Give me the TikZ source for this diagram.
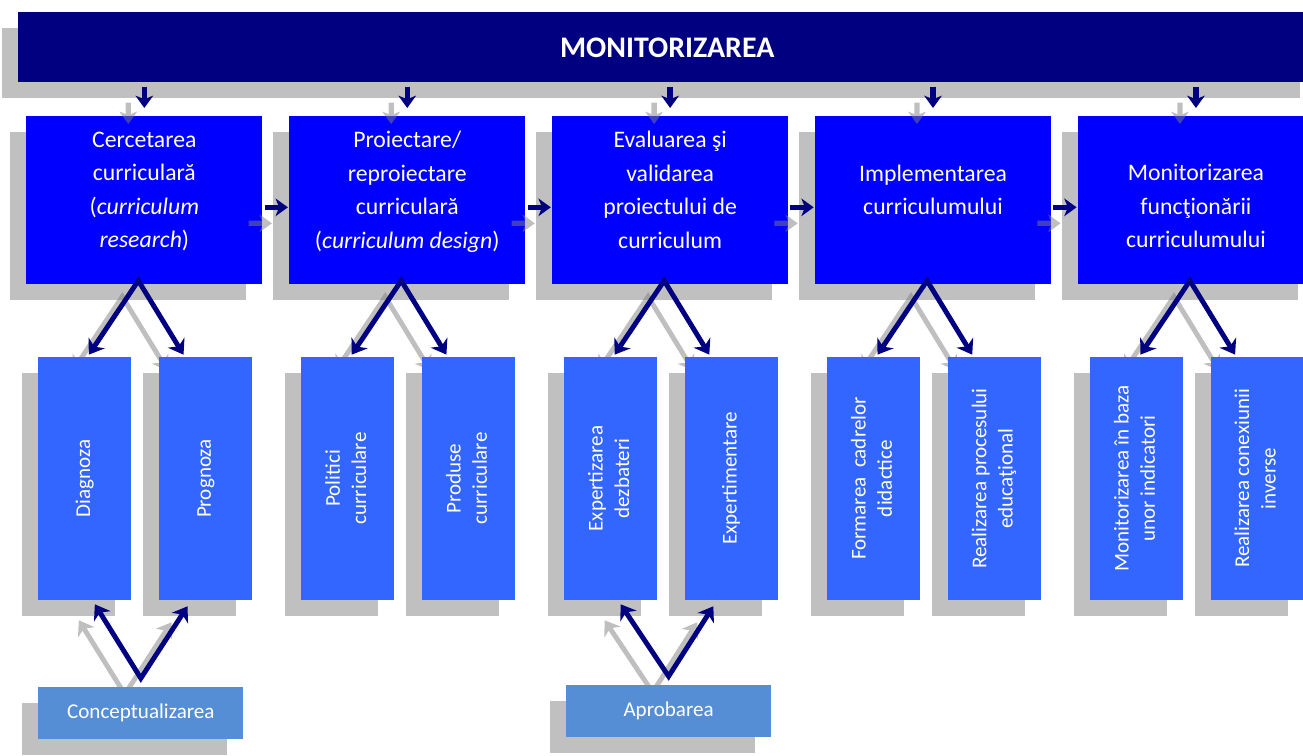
\documentclass[tikz,border=0pt]{standalone}
\usepackage{fontspec}
\setmainfont{Carlito}
\usepackage{graphicx}
\usetikzlibrary{positioning,calc,shadows,arrows.meta}

\definecolor{barnavy}{HTML}{000080}
\definecolor{stageblue}{HTML}{0000FF}
\definecolor{stepblue}{HTML}{3366FF}
\definecolor{baseblue}{HTML}{558ED5}
\definecolor{shadowgrey}{HTML}{C0C0C0}
\definecolor{ghostgrey}{HTML}{808080}

\pgfdeclarelayer{ghost}
\pgfdeclarelayer{front}
\pgfsetlayers{main,ghost,front}

\newcommand{\vlabel}[1]{\rotatebox{90}{\begin{tabular}{@{}c@{}}#1\end{tabular}}}

\tikzset{
  boxshadow/.style={drop shadow={shadow xshift=-0.32cm, shadow yshift=-0.32cm, fill=shadowgrey, opacity=1}},
  monbar/.style={boxshadow, fill=barnavy, text=white, inner sep=0pt, minimum width=25.96cm, minimum height=1.4cm, font=\fontsize{17}{20}\selectfont\bfseries},
  stage/.style={boxshadow, fill=stageblue, text=white, align=center, inner sep=0pt, minimum width=4.72cm, minimum height=3.36cm, font=\fontsize{13.5}{19}\selectfont, text depth=12pt},
  substep/.style={boxshadow, fill=stepblue, text=white, inner sep=0pt, minimum width=1.86cm, minimum height=4.86cm, font=\fontsize{12}{15}\selectfont},
  basebox/.style={boxshadow, fill=baseblue, text=white, inner sep=0pt, minimum width=4.1cm, minimum height=1.04cm, font=\fontsize{12}{15}\selectfont},
  flow/.style={draw=barnavy, line width=3pt, -{Stealth[length=7pt,width=10pt,inset=2pt]}},
  ghostflow/.style={flow, draw=ghostgrey},
  fork/.style={draw=barnavy, line width=2.8pt, line join=miter, {Stealth[length=8pt,width=11pt,inset=2.5pt]}-{Stealth[length=8pt,width=11pt,inset=2.5pt]}},
  ghostfork/.style={fork, draw=ghostgrey},
}

\begin{document}
\begin{tikzpicture}[x=0.02cm, y=-0.02cm]
\useasboundingbox (0,0) rectangle (1303,756);

% top bar
\node (monit)[monbar, anchor=north west] at (18,12) {MONITORIZAREA};

% stages
\node (cerc)[stage, anchor=north west] at (26,116) {Cercetarea\\curriculară\\(\textit{curriculum}\\\textit{research})};
\node (proi)[stage, right=0.525cm of cerc] {Proiectare/\\reproiectare\\curriculară\\(\textit{curriculum design})};
\node (eval)[stage, right=0.525cm of proi] {Evaluarea şi\\validarea\\proiectului de\\curriculum};
\node (impl)[stage, right=0.525cm of eval] {Implementarea\\curriculumului};
\node (moni)[stage, right=0.525cm of impl, text depth=3.4pt, text height=57pt] {Monitorizarea\\funcţionării\\curriculumului};

\begin{pgfonlayer}{front}
% sub-steps
\node (diag)[substep, below right=1.44cm and 0.24cm of cerc.south west] {\vlabel{Diagnoza}};
\node (prog)[substep, right=0.54cm of diag] {\vlabel{Prognoza}};
\node (polit)[substep, below right=1.44cm and 0.24cm of proi.south west] {\vlabel{Politici\\curriculare}};
\node (prod)[substep, right=0.54cm of polit] {\vlabel{Produse\\curriculare}};
\node (expz)[substep, below right=1.44cm and 0.24cm of eval.south west] {\vlabel{Expertizarea\\dezbateri}};
\node (expm)[substep, right=0.54cm of expz] {\vlabel{Expertimentare}};
\node (form)[substep, below right=1.44cm and 0.24cm of impl.south west] {\vlabel{Formarea~~cadrelor\\didactice}};
\node (real)[substep, right=0.54cm of form] {\vlabel{Realizarea procesului\\educaţional}};
\node (mind)[substep, below right=1.44cm and 0.24cm of moni.south west] {\vlabel{Monitorizarea în baza\\unor indicatori}};
\node (conx)[substep, right=0.54cm of mind] {\vlabel{Realizarea conexiunii\\inverse}};

% bases
\node (concept)[basebox, below right=1.72cm and 0cm of diag.south west] {Conceptualizarea};
\node (aprob)[basebox, below right=1.68cm and 0.04cm of expz.south west] {Aprobarea};

% navy arrows
\foreach \s in {cerc,proi,eval,impl,moni}
  \draw[flow] ($(\s.north |- monit.south)+(0,4)$) -- ($(\s.north)+(0,-8)$);
\foreach \a/\b in {cerc/proi,proi/eval,eval/impl,impl/moni}
  \draw[flow] ($(\a.east)+(2,7)$) -- ($(\b.west)+(-1,7)$);
\foreach \s/\l/\r in {cerc/diag/prog,proi/polit/prod,eval/expz/expm,impl/form/real,moni/mind/conx}
  \draw[fork] ($(\l.north)+(4,-2)$) -- ($(\s.south)+(-6,-4)$) -- ($(\r.north)+(-22,-2)$);
\foreach \b/\l/\r in {concept/diag/prog,aprob/expz/expm}
  \draw[fork] ($(\l.south)+(10,4)$) -- ($(\b.north)+(0,-8)$) -- ($(\r.south)+(-18,6)$);
\end{pgfonlayer}

% grey shadows of the arrows
\begin{pgfonlayer}{ghost}
\begin{scope}[transparency group, opacity=0.5]
\foreach \s in {cerc,proi,eval,impl,moni}
  \draw[ghostflow] ($(\s.north |- monit.south)+(-16,20)$) -- ($(\s.north)+(-16,8)$);
\foreach \a/\b in {cerc/proi,proi/eval,eval/impl,impl/moni}
  \draw[ghostflow] ($(\a.east)+(-14,23)$) -- ($(\b.west)+(-17,23)$);
\foreach \s/\l/\r in {cerc/diag/prog,proi/polit/prod,eval/expz/expm,impl/form/real,moni/mind/conx}
  \draw[ghostfork] ($(\l.north)+(-12,14)$) -- ($(\s.south)+(-22,12)$) -- ($(\r.north)+(-38,14)$);
\foreach \b/\l/\r in {concept/diag/prog,aprob/expz/expm}
  \draw[ghostfork] ($(\l.south)+(-6,20)$) -- ($(\b.north)+(-16,8)$) -- ($(\r.south)+(-34,22)$);
\end{scope}
\end{pgfonlayer}
\end{tikzpicture}
\end{document}
